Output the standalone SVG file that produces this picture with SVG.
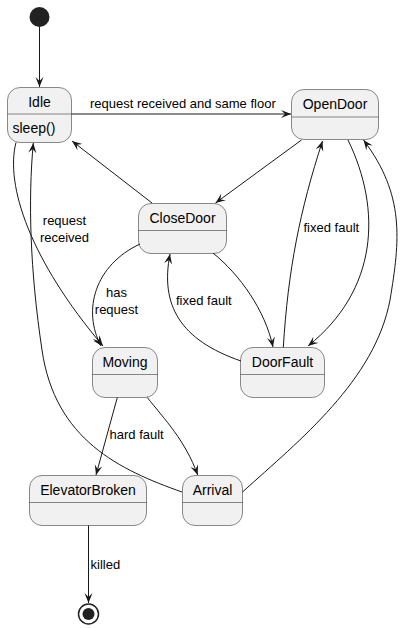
<svg xmlns="http://www.w3.org/2000/svg" width="410" height="628" viewBox="0 0 410 628">
<style>
.st{fill:#F1F1F1;stroke:#181818;stroke-width:0.5}
.dv{stroke:#181818;stroke-width:0.5}
.nm{font-family:"Liberation Sans",Arial,sans-serif;font-size:14px;fill:#000;text-anchor:middle}
.bd{font-family:"Liberation Sans",Arial,sans-serif;font-size:14px;fill:#000}
.lb{font-family:"Liberation Sans",Arial,sans-serif;font-size:13px;fill:#000}
.lc{font-family:"Liberation Sans",Arial,sans-serif;font-size:13px;fill:#000;text-anchor:middle}
.e{fill:none;stroke:#181818;stroke-width:1;marker-end:url(#ah)}
</style>
<defs>
<marker id="ah" markerWidth="12" markerHeight="10" refX="10" refY="4" orient="auto" markerUnits="userSpaceOnUse" viewBox="0 0 12 10">
<path d="M0,0 L10,4 L0,8 L4,4 Z" fill="#181818"/>
</marker>
</defs>
<g id="start"><circle cx="39.5" cy="17" r="10" fill="#222222"/></g>
<g id="Idle">
<rect class="st" x="7.5" y="87.5" width="64" height="55" rx="12.5"/>
<line class="dv" x1="7.5" y1="114" x2="71.5" y2="114"/>
<text class="nm" x="39.5" y="106.5">Idle</text>
<text class="bd" x="12.5" y="133">sleep()</text>
</g>
<g id="OpenDoor">
<rect class="st" x="291.5" y="89.5" width="87" height="50" rx="12.5"/>
<line class="dv" x1="291.5" y1="117" x2="378.5" y2="117"/>
<text class="nm" x="335" y="109">OpenDoor</text>
</g>
<g id="CloseDoor">
<rect class="st" x="138.5" y="203.5" width="88" height="50" rx="12.5"/>
<line class="dv" x1="138.5" y1="230.5" x2="226.5" y2="230.5"/>
<text class="nm" x="182.5" y="223">CloseDoor</text>
</g>
<g id="DoorFault">
<rect class="st" x="240.5" y="347.5" width="84" height="50" rx="12.5"/>
<line class="dv" x1="240.5" y1="374.5" x2="324.5" y2="374.5"/>
<text class="nm" x="282.5" y="367">DoorFault</text>
</g>
<g id="Moving">
<rect class="st" x="92.5" y="347.5" width="65" height="50" rx="12.5"/>
<line class="dv" x1="92.5" y1="374.5" x2="157.5" y2="374.5"/>
<text class="nm" x="125" y="367">Moving</text>
</g>
<g id="ElevatorBroken">
<rect class="st" x="29.5" y="475.5" width="117" height="50" rx="12.5"/>
<line class="dv" x1="29.5" y1="502.5" x2="146.5" y2="502.5"/>
<text class="nm" x="88" y="495">ElevatorBroken</text>
</g>
<g id="Arrival">
<rect class="st" x="182.5" y="475.5" width="60" height="50" rx="12.5"/>
<line class="dv" x1="182.5" y1="502.5" x2="242.5" y2="502.5"/>
<text class="nm" x="212.5" y="495">Arrival</text>
</g>
<g id="end">
<circle cx="88.5" cy="614" r="10" fill="none" stroke="#222222" stroke-width="1.5"/>
<circle cx="88.5" cy="614" r="6" fill="#222222"/>
</g>
<g id="connectors">
<path class="e" d="M39.5,27 L39.5,87"/>
<path class="e" d="M71.5,114 L291,114"/>
<text class="lb" x="90" y="107.5">request received and same floor</text>
<path class="e" d="M301.5,140 L215.5,203"/>
<path class="e" d="M152,203 L72,141"/>
<path class="e" d="M16,142.5 C5,185 30,260 103,346"/>
<text class="lc" x="64.5" y="225">request</text>
<text class="lc" x="64.5" y="242">received</text>
<path class="e" d="M182,492 C120,470 55,440 42,350 C30,270 28,200 33.3,143"/>
<path class="e" d="M140,244 C95,265 82,310 101,346"/>
<text class="lc" x="116.5" y="297">has</text>
<text class="lc" x="116.5" y="313.5">request</text>
<path class="e" d="M213,253 C240,275 265,310 273,347"/>
<path class="e" d="M241,361 C180,340 160,305 170,254"/>
<text class="lb" x="176" y="305">fixed fault</text>
<path class="e" d="M283.3,347.5 C288,270 300,210 322.5,141"/>
<text class="lb" x="303.5" y="232">fixed fault</text>
<path class="e" d="M348,140 C382,210 378,290 308,346"/>
<path class="e" d="M242.5,492 C300,440 375,380 390,300 C400,240 405,195 363.5,140"/>
<path class="e" d="M117.3,397.5 L96,475"/>
<text class="lb" x="109.5" y="438.5">hard fault</text>
<path class="e" d="M147.3,397.5 C165,420 185,440 197.7,475"/>
<path class="e" d="M88.5,525.5 L88.5,603"/>
<text class="lb" x="90.5" y="568.5">killed</text>
</g>
</svg>
